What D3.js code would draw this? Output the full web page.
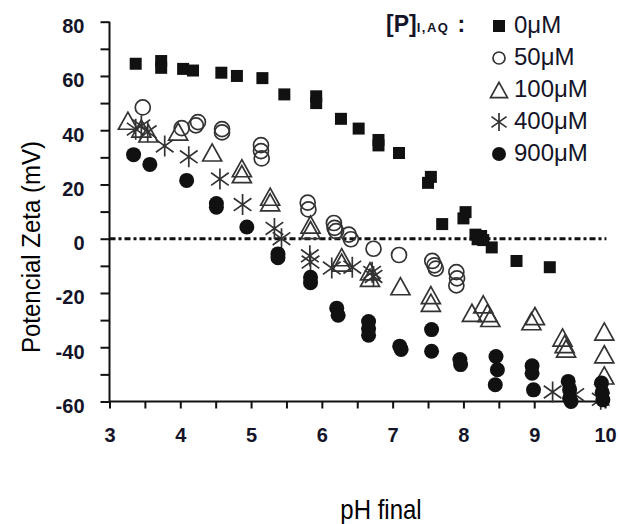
<!DOCTYPE html>
<html>
<head>
<meta charset="utf-8">
<script src="https://cdn.jsdelivr.net/npm/d3@7"></script>
<style>
  body { margin: 0; background: #fff; }
  text { font-family: "Liberation Sans", Arial, sans-serif; }
</style>
</head>
<body>
<svg id="drawing_region"></svg>
<script>
// series: [pH final, potencial zeta (mV)]
const s0uM = [[3.37,64.5],[3.73,65.5],[3.73,63],[4.04,62.6],[4.18,62.0],[4.58,61.2],[4.80,60.0],[5.16,59.2],
  [5.47,53.2],[5.92,52.5],[5.92,50],[6.27,44.2],[6.52,40.6],[6.80,36.4],[6.80,34.4],[7.09,31.6],[7.50,20.6],
  [7.54,22.8],[7.70,5.4],[8.00,7.5],[8.03,9.8],[8.17,1.5],[8.20,-0.2],[8.25,1.0],[8.28,-0.5],[8.40,-3.2],
  [8.75,-8.2],[9.22,-10.5]]
const s50uM = [[3.47,48.4],[4.02,40.8],[4.22,41.8],[4.25,43.0],[4.59,40.4],[4.59,39.2],[5.14,34.5],[5.14,32.3],
  [5.15,29.6],[5.80,13.3],[5.81,10.8],[6.17,5.8],[6.18,4.0],[6.20,2.8],[6.38,1.5],[6.41,-0.2],[6.73,-3.7],
  [7.09,-6.0],[7.56,-8.2],[7.59,-9.8],[7.61,-11.0],[7.90,-12.3],[7.91,-14.6],[7.90,-17.2]]
const s100uM = [[3.26,43.5],[3.45,40.6],[3.55,38.8],[3.97,39.5],[4.45,31.8],[4.87,26],[4.87,23.8],[5.27,15.5],
  [5.27,13.4],[5.84,5.2],[5.84,3.2],[6.28,-6.8],[6.28,-8.8],[6.68,-12.0],[6.68,-14.4],[7.11,-17.5],[7.54,-20.8],
  [7.54,-23.6],[8.12,-27.3],[8.28,-24.2],[8.34,-27.4],[8.38,-29.2],[8.96,-30.4],[9.01,-28.5],[9.40,-36.4],
  [9.43,-38.8],[9.45,-40.5],[9.99,-34.2],[9.99,-42.6],[9.99,-50.4]]
const s400uM = [[3.37,40.4],[3.45,41.6],[3.54,39.4],[3.78,34.2],[4.12,30.2],[4.56,22.0],[4.88,12.6],[5.33,3.8],
  [5.43,0.0],[5.83,-6.3],[5.84,-8.6],[6.14,-10.8],[6.43,-10.5],[6.71,-12.4],[6.73,-13.9],[9.26,-56.5],
  [9.58,-57.5],[9.94,-59.2]]
const s900uM = [[3.34,31.0],[3.57,27.4],[4.09,21.5],[4.51,13.0],[4.51,11.6],[4.94,4.3],[5.38,-5.6],[5.38,-7.0],
  [5.84,-14.2],[5.84,-16.2],[6.21,-25.6],[6.23,-28.2],[6.66,-30.5],[6.66,-33.2],[6.66,-35.6],[7.10,-39.6],
  [7.12,-40.8],[7.55,-33.5],[7.55,-41.5],[7.95,-44.5],[7.96,-46.4],[8.46,-43.4],[8.48,-48.3],[8.45,-53.8],
  [8.97,-46.8],[8.97,-49.6],[8.99,-55.7],[9.48,-52.6],[9.50,-55.7],[9.50,-58.8],[9.52,-60.0],[9.95,-53.2],
  [9.96,-56.6],[9.97,-59.4]]

const legendLabels = ['0μM','50μM','100μM','400μM','900μM']
const xTicks = d3.range(3, 10.01, 0.5)
const yTicks = d3.range(-60, 81, 10)

const width = 618, height = 524
const svg = d3.select('#drawing_region').attr('width', width).attr('height', height)

const xscale = d3.scaleLinear().domain([3,10]).range([109.5,605])
const yscale = d3.scaleLinear().domain([-60,80]).range([401.5,21.7])

// marker shapes
const shapes = {
  square: (g, s) => g.append('rect').attr('x',-s/2).attr('y',-s/2).attr('width',s).attr('height',s)
      .attr('fill','#111'),
  circle: (g, s) => g.append('circle').attr('r',s/2).attr('fill','none').attr('stroke','#333').attr('stroke-width',1.7),
  triangle: (g, s) => g.append('path')
      .attr('d',`M0,${-s*0.45}L${s/2},${s*0.45}L${-s/2},${s*0.45}Z`)
      .attr('fill','none').attr('stroke','#333').attr('stroke-width',1.7),
  star: (g, s) => g.append('path')
      .attr('d',`M0,${-s/2}V${s/2}M${-s*0.42},${-s*0.3}L${s*0.42},${s*0.3}M${-s*0.42},${s*0.3}L${s*0.42},${-s*0.3}`)
      .attr('fill','none').attr('stroke','#333').attr('stroke-width',1.7),
  dot: (g, s) => g.append('circle').attr('r',s/2).attr('fill','#111')
}

const series = [
  {data: s0uM, shape: 'square', size: 12, lsize: 12},
  {data: s50uM, shape: 'circle', size: 15, lsize: 12},
  {data: s100uM, shape: 'triangle', size: 19, lsize: 17},
  {data: s400uM, shape: 'star', size: 21, lsize: 18},
  {data: s900uM, shape: 'dot', size: 15, lsize: 14}
]

// zero line
svg.append('line')
  .attr('x1', xscale(3)).attr('x2', xscale(10.02))
  .attr('y1', yscale(0)).attr('y2', yscale(0))
  .attr('stroke','#111').attr('stroke-width',3).attr('stroke-dasharray','6,3,3,3')

// axes
const xaxis = d3.axisBottom(xscale).tickValues(xTicks).tickSize(7).tickPadding(19)
  .tickFormat(d => Number.isInteger(d) ? d : '')
const yaxis = d3.axisLeft(yscale).tickValues(yTicks).tickSize(9).tickPadding(16)
  .tickFormat(d => d % 20 === 0 ? d : '')

const xg = svg.append('g').attr('transform',`translate(0,${yscale(-60)})`).call(xaxis)
const yg = svg.append('g').attr('transform',`translate(${xscale(3)},0)`).call(yaxis)

;[xg, yg].forEach(g => {
  g.select('.domain').attr('stroke','#111').attr('stroke-width',2)
  g.selectAll('.tick line').attr('stroke','#111').attr('stroke-width',2)
  g.selectAll('.tick text').attr('fill','#141428').attr('font-size',20).attr('font-weight','bold')
    .attr('font-family','"Liberation Sans", Arial, sans-serif')
})
xg.select('.domain').attr('d', `M${xscale(3)},0H${xscale(10)}`)
yg.select('.domain').attr('d', `M0,${yscale(80)}V${yscale(-60)}`)
yg.selectAll('.tick text').attr('dy','0.55em')

// points
series.forEach(s => {
  const grp = svg.append('g')
  s.data.forEach(d => {
    const g = grp.append('g').attr('transform',`translate(${xscale(d[0])},${yscale(d[1])})`)
    shapes[s.shape](g, s.size)
  })
})

// legend
const legend = svg.append('g')
const head = legend.append('text').attr('x',386).attr('y',32).attr('fill','#141428').attr('font-weight','bold')
head.append('tspan').attr('font-size',23).text('[P]')
head.append('tspan').attr('font-size',13).attr('letter-spacing',1.5).text('I,AQ')
head.append('tspan').attr('font-size',23).attr('dx',8).text(':')

series.forEach((s, i) => {
  const yy = 33 + i*32
  const g = legend.append('g').attr('transform',`translate(499,${yy - 7})`)
  shapes[s.shape](g, s.lsize)
  legend.append('text').attr('x',514).attr('y',yy).attr('font-size',24).attr('fill','#141428')
    .text(legendLabels[i])
})

// axis titles
svg.append('text')
  .attr('transform',`translate(40,247) rotate(-90) scale(1,1.1)`)
  .attr('text-anchor','middle').attr('font-size',24).attr('fill','#000')
  .text('Potencial Zeta (mV)')

svg.append('text')
  .attr('transform',`translate(381,519) scale(1,1.15)`)
  .attr('text-anchor','middle').attr('font-size',24).attr('fill','#000')
  .text('pH final')
</script>
</body>
</html>
